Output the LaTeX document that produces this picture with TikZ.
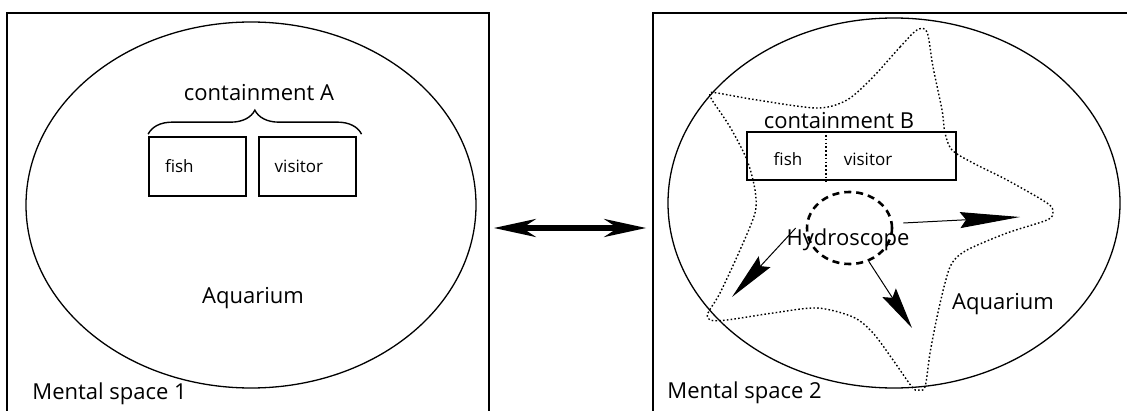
\documentclass[tikz,border=0pt]{standalone}
\usepackage{fontspec}
\setmainfont{Open Sans}
\usetikzlibrary{positioning}
\usetikzlibrary{arrows.meta}
\usetikzlibrary{shapes.geometric}
\usetikzlibrary{decorations.pathreplacing}

\begin{document}
\begin{tikzpicture}[
        x=0.5pt, y=-0.5pt,
        >=stealth,
        framenode/.style={rectangle, draw=black, line width=0.85pt, minimum height=206pt, inner sep=0pt},
        tanknode/.style={ellipse, draw=black, line width=0.65pt, inner sep=0pt},
        boxnode/.style={rectangle, draw=black, line width=0.85pt, minimum height=29.5pt, text width=32.5pt, inner xsep=8pt, inner ysep=0pt, align=left, font=\fontsize{8.5}{10}\selectfont},
        bignode/.style={font=\fontsize{11}{13}\selectfont, inner sep=0pt},
        smallnode/.style={font=\fontsize{8.5}{10}\selectfont, inner sep=0pt},
        dotline/.style={line width=0.7pt, dash pattern=on 0.8pt off 1.1pt},
        pointer/.style={-{Stealth[length=#1, width=8pt, inset=3pt]}, line width=0.5pt}
    ]

        \useasboundingbox (0,0) rectangle (1127,411);
        \clip (0,0) rectangle (1127,411);

        % Mental space 1
        \node [framenode, minimum width=241pt] (Space1) at (248,219) {};
        \node [tanknode, minimum width=225pt, minimum height=183pt] (Tank1) at (251,205) {};
        \node [boxnode] (Fish1) at (197.5,166.5) {fish};
        \node [boxnode] (Visitor1) [right=5.5pt of Fish1] {visitor};
        \draw [line width=0.7pt, decorate, decoration={brace, amplitude=12pt}]
            ([yshift=1pt]Fish1.north west) -- ([xshift=2.5pt, yshift=1pt]Visitor1.north east);
        \node [bignode] (ContainA) at (259,93) {containment A};
        \node [bignode] (Aqua1) at (253,298) {Aquarium};
        \node [bignode, anchor=west] (Name1) at (32,394) {Mental space 1};

        % Mental space 2
        \node [framenode, minimum width=243.5pt] (Space2) at (896.5,219) {};
        \node [tanknode, minimum width=226pt, minimum height=185pt] (Tank2) at (894,203) {};

        % Star of the hydroscope view
        \draw [dotline] plot [smooth cycle, tension=0.5] coordinates {
            (873,77) (900,47) (917,30) (927,32) (933,67) (942,110) (945,133) (952,150)
            (973,163) (1007,180) (1047,203) (1053,212) (1047,220) (1007,233) (967,250)
            (952,263) (945,283) (937,317) (930,353) (925,387) (918,390) (912,387)
            (893,360) (873,333) (853,317) (817,308) (773,313) (727,320) (710,320)
            (708,313) (720,293) (740,250) (755,213) (755,190) (747,160) (730,127)
            (712,100) (710,93) (717,93) (757,100) (817,108) (847,100)};

        \node [rectangle, draw=black, line width=0.85pt, minimum width=104.5pt, minimum height=24pt, inner sep=0pt] (BoxB) at (851.5,156) {};
        \draw [dotline] (BoxB.north -| 826,0) -- (BoxB.south -| 826,0);
        \node [smallnode] (Fish2) at (788,159) {fish};
        \node [smallnode] (Visitor2) at (868,159) {visitor};
        \node [bignode] (ContainB) at (839,121) {containment B};

        \node [ellipse, draw=black, line width=1.3pt, dash pattern=on 3.5pt off 2.5pt, minimum width=42.5pt, minimum height=36pt, inner sep=0pt] (Scope) at (849.5,228) {};
        \node [bignode] (ScopeText) at (848,240) {Hydroscope};
        \coordinate (Tip1) at (732,297);
        \coordinate (Tip2) at (1020,217);
        \coordinate (Tip3) at (912,328);

        % Arrows from the hydroscope outwards
        \draw [pointer=24pt] ([xshift=-5pt]Scope.west) -- (Tip1);
        \draw [pointer=30pt] ([xshift=5pt, yshift=2.5pt]Scope.east) -- (Tip2);
        \draw [pointer=21pt] (Scope.-60) -- (Tip3);

        \node [bignode] (Aqua2) at (1003,304) {Aquarium};
        \node [bignode, anchor=west] (Name2) at (667,393) {Mental space 2};

        % Link between the two spaces
        \draw [{Stealth[length=21pt, width=9pt]}-{Stealth[length=21pt, width=9pt]}, line width=2.6pt, shorten <=2pt, shorten >=3pt]
            ([yshift=-4.5pt]Space1.east) -- ([yshift=-4.5pt]Space2.west);

    \end{tikzpicture}
\end{document}
